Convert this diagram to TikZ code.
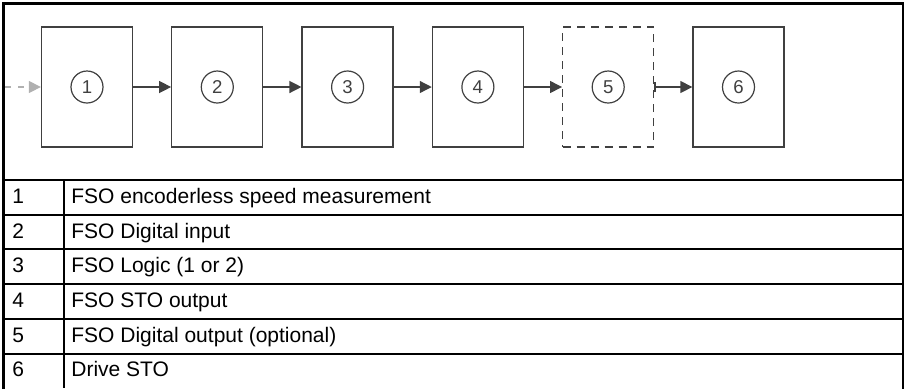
\documentclass[tikz,border=0pt]{standalone}
\usepackage{fontspec}
\setmainfont{Liberation Sans}
\usetikzlibrary{arrows.meta}
\definecolor{boxgray}{HTML}{404040}
\definecolor{dashgray}{HTML}{B0B0B0}
\begin{document}
\begin{tikzpicture}[x=0.5pt,y=-0.5pt,
  blk/.style={draw=boxgray, line width=0.65pt, minimum width=45.5pt, minimum height=60pt, inner sep=0pt},
  optblk/.style={blk, dash pattern=on 4pt off 3pt},
  num/.style={draw=boxgray, circle, line width=0.6pt, minimum size=16pt, inner sep=0pt, text=boxgray, font=\fontsize{9.3}{10}\selectfont},
  arr/.style={draw=boxgray, line width=0.65pt, -{Triangle[length=6pt,width=6pt]}},
  frame/.style={line width=1.2pt, line cap=rect},
  rule/.style={line width=1pt},
  celltxt/.style={anchor=base west, inner sep=0pt, font=\fontsize{10.5}{12}\selectfont}
]
\useasboundingbox (0,0) rectangle (906,388);
% outer frame
\draw[frame] (3.5,388) -- (3.5,3.5) -- (903,3.5) -- (903,388);
\draw[rule] (3.5,180) -- (903,180);
% blocks
\foreach \i/\x in {1/87,2/217.3,3/347.6,4/477.9,6/738.5}{
  \node[blk] (b\i) at (\x,87) {};
  \node[num] (c\i) at (b\i.center) {\i};
}
\node[optblk] (b5) at (608.2,87) {};
\node[num] (c5) at (b5.center) {5};
% incoming
\coordinate (in) at (5,87);
\draw[draw=dashgray, line width=0.65pt, dash pattern=on 3pt off 3.5pt, -{Triangle[length=6pt,width=6pt]}] (in) -- (b1.west);
\draw[arr] (b1.east) -- (b2.west);
\draw[arr] (b2.east) -- (b3.west);
\draw[arr] (b3.east) -- (b4.west);
\draw[arr] (b4.east) -- (b5.west);
\draw[draw=boxgray, line width=0.65pt, {Bar[width=5pt,line width=0.65pt]}-{Triangle[length=6pt,width=6pt]}] (b5.east) -- (b6.west);
% table
\foreach \k in {1,...,5}{
  \draw[rule] (3.5,{180+34.7*\k}) -- (903,{180+34.7*\k});
}
\draw[rule] (64,180) -- (64,388);
\foreach \k/\t in {1/FSO encoderless speed measurement,2/FSO Digital input,3/FSO Logic (1 or 2),4/FSO STO output,5/FSO Digital output (optional),6/Drive STO}{
  \node[celltxt] (n\k) at (12,{180+34.7*(\k-1)+23.3}) {\k};
  \node[celltxt] (t\k) at (71,{180+34.7*(\k-1)+23.3}) {\t};
}
\end{tikzpicture}
\end{document}
